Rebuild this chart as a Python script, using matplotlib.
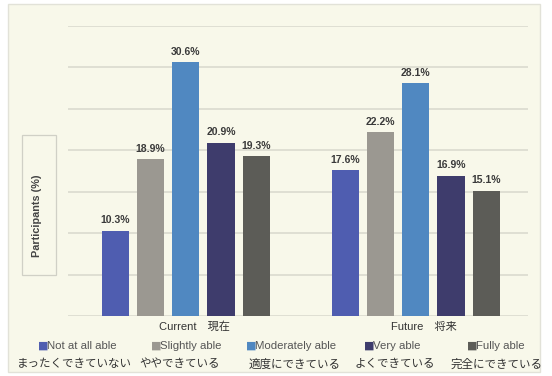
import matplotlib
matplotlib.use("Agg")
import matplotlib.pyplot as plt
from matplotlib.patches import Rectangle
import numpy as np

plt.rcParams['font.family'] = ['Liberation Sans', 'Noto Sans CJK JP', 'DejaVu Sans']

# 集計データ
periods = ['Current\u3000現在', 'Future\u3000将来']
levels_en = ['Not at all able', 'Slightly able', 'Moderately able', 'Very able', 'Fully able']
levels_ja = ['まったくできていない', 'ややできている', '適度にできている', 'よくできている', '完全にできている']
current = [10.3, 18.9, 30.6, 20.9, 19.3]
future = [17.6, 22.2, 28.1, 16.9, 15.1]
colors = ['#4f5db0', '#9b9891', '#5088c1', '#3e3c6c', '#5c5c57']

W, H = 552, 376
fig = plt.figure(figsize=(W / 100, H / 100), dpi=100)
fig.patch.set_facecolor('white')

def px(x, y):
    return x / W, 1 - y / H

# 背景パネル
x0, y0 = px(8, 372)
x1, y1 = px(540, 4)
fig.patches.append(Rectangle((x0, y0), x1 - x0, y1 - y0, transform=fig.transFigure,
                             facecolor='#f8f8ea', edgecolor='#e2e2d8', lw=1.0, zorder=-10))

ax_l, ax_b = px(68, 316)
ax_r, ax_t = px(528, 26)
ax = fig.add_axes([ax_l, ax_b, ax_r - ax_l, ax_t - ax_b])
ax.set_facecolor('none')
ax.set_zorder(1)

x = np.array([0.256, 0.756])
width = 0.059
step = 0.0767
values = np.array([current, future])
for i in range(len(levels_en)):
    pos = x + (i - 2) * step
    bars = ax.bar(pos, values[:, i], width=width, color=colors[i], zorder=3)
    for b, v in zip(bars, values[:, i]):
        ax.annotate(f'{v:.1f}%', (b.get_x() + b.get_width() / 2, v),
                    xytext=(0, 4), textcoords='offset points', ha='center', va='bottom',
                    fontsize=7.5, fontweight='bold', color='#3a3a3a')

ax.set_xlim(0, 1)
ax.set_ylim(0, 35)
ax.set_yticks(np.arange(0, 36, 5))
ax.yaxis.grid(True, color='#d8d8cc', lw=1.1)
ax.set_axisbelow(True)
ax.tick_params(axis='y', length=0, labelleft=False)
ax.set_xticks(x + 0.018)
ax.set_xticklabels(periods, fontsize=8, color='#333333')
ax.tick_params(axis='x', length=0, pad=4)
for s in ax.spines.values():
    s.set_visible(False)

# 縦軸ラベルの枠
bx0, by0 = px(22, 275)
bx1, by1 = px(56, 135)
fig.patches.append(Rectangle((bx0, by0), bx1 - bx0, by1 - by0, transform=fig.transFigure,
                             facecolor='none', edgecolor='#d0d0c6', lw=0.9, zorder=2))
tx, ty = px(37, 216)
fig.text(tx, ty, 'Participants (%)', rotation=90, ha='center', va='center',
         fontsize=7.8, fontweight='bold', color='#444444')

# 凡例（英語と日本語の二段）
sq_x = [38, 151, 246, 364, 467]
ja_cx = [74, 180, 295, 395, 497]
ey = 1 - 346 / H
jy = 1 - 364 / H
for i in range(len(levels_en)):
    fig.text(sq_x[i] / W, ey, '■', color=colors[i], fontsize=8, ha='left', va='center',
             family=['DejaVu Sans'])
    fig.text((sq_x[i] + 9) / W, ey, levels_en[i], color='#555555', fontsize=8.2,
             ha='left', va='center')
    fig.text(ja_cx[i] / W, jy, levels_ja[i], color='#333333', fontsize=8.3,
             ha='center', va='center', family=['Noto Sans CJK JP'])

fig.savefig('out.png', dpi=100)
